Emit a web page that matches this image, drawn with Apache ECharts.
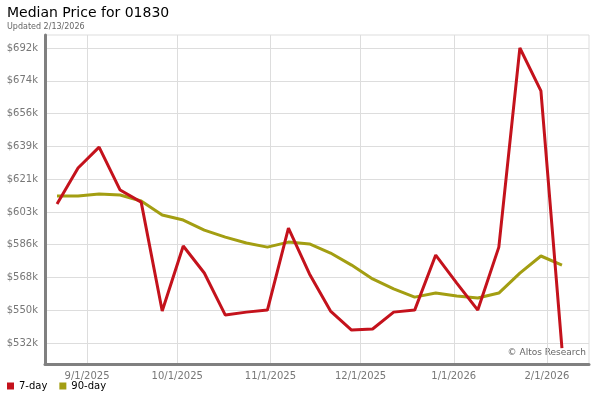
<!DOCTYPE html>
<html>
<head>
<meta charset="utf-8">
<script src="https://cdn.jsdelivr.net/npm/echarts@6/dist/echarts.min.js"></script>
<style>
  html, body { margin: 0; padding: 0; background: #fff; }
  #chart { width: 600px; height: 400px; }
</style>
</head>
<body>
<div id="chart"></div>
<script>
  // weekly dates
  var dates = [
    '2025-08-22', '2025-08-29', '2025-09-05', '2025-09-12', '2025-09-19',
    '2025-09-26', '2025-10-03', '2025-10-10', '2025-10-17', '2025-10-24',
    '2025-10-31', '2025-11-07', '2025-11-14', '2025-11-21', '2025-11-28',
    '2025-12-05', '2025-12-12', '2025-12-19', '2025-12-26', '2026-01-02',
    '2026-01-09', '2026-01-16', '2026-01-23', '2026-01-30', '2026-02-06'
  ];
  var sevenDay = [
    607500, 626900, 638200, 615000, 608500, 549700, 584800, 570200, 547500, 549100,
    550200, 594500, 569700, 549700, 539400, 540000, 549100, 550200, 579900, 564800,
    550200, 584200, 691700, 668500, 529700
  ];
  var ninetyDay = [
    611800, 611800, 612900, 612300, 609100, 601500, 598800, 593400, 589600, 586400,
    584200, 586900, 585900, 581000, 574500, 567000, 561600, 557200, 559400, 557800,
    556700, 559400, 570200, 579400, 574500
  ];
  // y tick values (labels shown rounded to $k)
  var yTicks = [532400, 550100, 567800, 585500, 603200, 620900, 638600, 656300, 674000, 691700];
  // month gridlines on the x axis
  var xTicks = ['2025-09-01', '2025-10-01', '2025-11-01', '2025-12-01', '2026-01-01', '2026-02-01'];

  function toTime(s) {
    var p = s.split('-');
    return new Date(+p[0], +p[1] - 1, +p[2]).getTime();
  }

  var font = 'DejaVu Sans';
  var chart = echarts.init(document.getElementById('chart'));
  var option = {
    animation: false,
    textStyle: { fontFamily: font },
    title: {
      left: 2,
      top: 1,
      text: 'Median Price for 01830',
      textStyle: { fontFamily: font, fontSize: 14, fontWeight: 'normal', color: '#000' },
      subtext: 'Updated 2/13/2026',
      subtextStyle: { fontFamily: font, fontSize: 8, color: '#666' },
      itemGap: 3
    },
    legend: {
      left: 2,
      bottom: 4,
      icon: 'rect',
      itemWidth: 7,
      itemHeight: 7,
      itemGap: 12,
      textStyle: { fontFamily: font, fontSize: 10, color: '#000' },
      data: ['7-day', '90-day']
    },
    grid: {
      left: 45,
      right: 11,
      top: 35,
      bottom: 36,
      show: true,
      borderColor: '#ddd',
      borderWidth: 1
    },
    graphic: [{
      type: 'text',
      right: 14,
      top: 348,
      style: { text: '© Altos Research', fontFamily: font, fontSize: 9, fill: '#666' }
    }],
    xAxis: {
      type: 'value',
      min: toTime('2025-08-18'),
      max: toTime('2026-02-15'),
      axisLine: { lineStyle: { color: '#808080', width: 3 } },
      axisTick: { show: false, customValues: xTicks.map(toTime) },
      axisLabel: {
        customValues: xTicks.map(toTime),
        color: '#777',
        fontSize: 10,
        fontFamily: font,
        margin: 7,
        formatter: function (v) {
          var d = new Date(v);
          return (d.getMonth() + 1) + '/' + d.getDate() + '/' + d.getFullYear();
        }
      },
      splitLine: { show: true, lineStyle: { color: '#ddd', width: 1 } }
    },
    yAxis: {
      type: 'value',
      min: 521100,
      max: 698700,
      axisLine: { show: true, lineStyle: { color: '#808080', width: 3 } },
      axisTick: { show: false, customValues: yTicks },
      axisLabel: {
        customValues: yTicks,
        color: '#777',
        fontSize: 10,
        fontFamily: font,
        margin: 7,
        formatter: function (v) { return '$' + Math.round(v / 1000) + 'k'; }
      },
      splitLine: { show: true, lineStyle: { color: '#ddd', width: 1 } }
    },
    series: [{
      name: '7-day',
      type: 'line',
      symbol: 'none',
      z: 3,
      itemStyle: { color: '#c4121c' },
      lineStyle: { color: '#c4121c', width: 3 },
      data: dates.map(function (d, i) { return [toTime(d), sevenDay[i]]; })
    }, {
      name: '90-day',
      type: 'line',
      symbol: 'none',
      z: 2,
      itemStyle: { color: '#a39e12' },
      lineStyle: { color: '#a39e12', width: 3 },
      data: dates.map(function (d, i) { return [toTime(d), ninetyDay[i]]; })
    }]
  };
  chart.setOption(option);
</script>
</body>
</html>
